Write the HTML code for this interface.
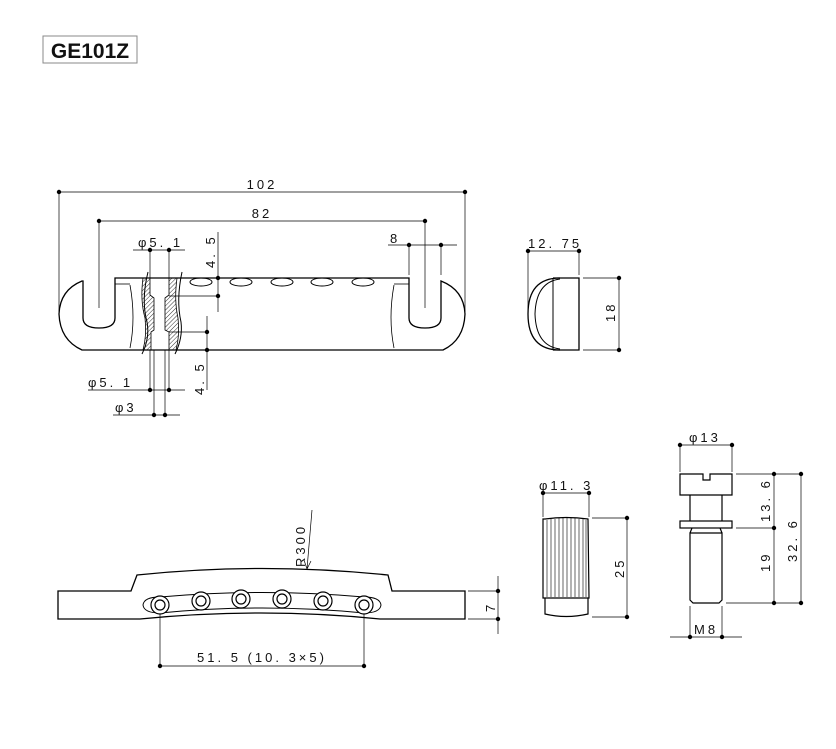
<!DOCTYPE html>
<html><head><meta charset="utf-8"><style>
html,body{margin:0;padding:0;background:#fff}
svg{display:block}
text{font-family:"Liberation Sans",sans-serif;font-size:13px;fill:#111;letter-spacing:3px}
</style></head><body>
<svg width="836" height="749" viewBox="0 0 836 749" xmlns="http://www.w3.org/2000/svg">
<defs>
<pattern id="h" width="3" height="3" patternUnits="userSpaceOnUse" patternTransform="rotate(45)"><line x1="0" y1="0" x2="0" y2="3" stroke="#333" stroke-width="1"/></pattern>
</defs>
<!-- title -->
<rect x="43" y="36" width="94" height="27" fill="#fff" stroke="#888" stroke-width="1"/>
<text x="90" y="58" text-anchor="middle" style="font-size:21px;font-weight:bold;letter-spacing:0" fill="#000">GE101Z</text>

<g fill="none" stroke="#000" stroke-width="1.3">
<!-- top view body -->
<path d="M82,281 Q60,290 59,314 Q60,340 82,350 L443,350 Q464,340 465,314 Q464,290 441,281 L441,318 Q441,328 425,328 Q409,328 409,318 L409,278 L115,278 L115,318 Q115,328 99,328 Q83,328 83,318 L83,281 Z"/>
<path d="M130,285 Q136,318 130,348 M394,285 Q388,318 394,348" stroke-width="0.8"/>
<line x1="115" y1="284" x2="130" y2="284" stroke-width="0.8"/><line x1="394" y1="284" x2="409" y2="284" stroke-width="0.8"/>
<!-- holes -->
<g stroke-width="1"><ellipse cx="201" cy="282" rx="11" ry="4"/><ellipse cx="241" cy="282" rx="11" ry="4"/><ellipse cx="282" cy="282" rx="11" ry="4"/><ellipse cx="322" cy="282" rx="11" ry="4"/><ellipse cx="363" cy="282" rx="11" ry="4"/></g>
</g>
<!-- section -->
<path d="M143,278 Q140,300 145,318 Q147,335 143,350 L151,350 L151,332 L154,330 L154,298 L150,295 L150,278 Z" fill="url(#h)" stroke="#000" stroke-width="0.8"/>
<path d="M177,278 Q174,300 178,318 Q180,335 176,350 L169,350 L169,332 L165,330 L165,298 L169,295 L169,278 Z" fill="url(#h)" stroke="#000" stroke-width="0.8"/>
<path d="M148,272 Q141,300 147,322 Q150,338 142,354 M182,272 Q176,300 181,322 Q183,338 175,354" fill="none" stroke="#000" stroke-width="1"/>

<g stroke="#000" stroke-width="0.7" fill="none">
<!-- dim lines top view -->
<line x1="59" y1="192" x2="465" y2="192"/><line x1="59" y1="192" x2="59" y2="312"/><line x1="465" y1="192" x2="465" y2="312"/>
<line x1="99" y1="221" x2="425" y2="221"/><line x1="99" y1="221" x2="99" y2="308"/><line x1="425" y1="221" x2="425" y2="308"/>
<line x1="388" y1="245" x2="457" y2="245"/><line x1="409" y1="245" x2="409" y2="275"/><line x1="441" y1="245" x2="441" y2="275"/>
<line x1="133" y1="250" x2="185" y2="250"/><line x1="150" y1="250" x2="150" y2="278"/><line x1="169" y1="250" x2="169" y2="278"/>
<line x1="218" y1="232" x2="218" y2="312"/><line x1="169" y1="296" x2="218" y2="296"/>
<line x1="207" y1="316" x2="207" y2="390"/><line x1="169" y1="332" x2="207" y2="332"/>
<line x1="150" y1="350" x2="150" y2="390"/><line x1="169" y1="350" x2="169" y2="390"/>
<line x1="154" y1="350" x2="154" y2="415"/><line x1="165" y1="350" x2="165" y2="415"/>
<line x1="88" y1="390" x2="185" y2="390"/><line x1="113" y1="415" x2="180" y2="415"/>
<!-- side view dims -->
<line x1="528" y1="251" x2="579" y2="251"/><line x1="528" y1="251" x2="528" y2="315"/><line x1="579" y1="251" x2="579" y2="275"/>
<line x1="583" y1="278" x2="619" y2="278"/><line x1="583" y1="350" x2="619" y2="350"/><line x1="619" y1="278" x2="619" y2="350"/>
<!-- bottom view dims -->
<line x1="160" y1="605" x2="160" y2="666"/><line x1="364" y1="605" x2="364" y2="666"/><line x1="160" y1="666" x2="364" y2="666"/>
<line x1="468" y1="591" x2="498" y2="591"/><line x1="468" y1="619" x2="498" y2="619"/><line x1="498" y1="576" x2="498" y2="634"/>
<line x1="312" y1="510" x2="307" y2="569"/><path d="M304,560 L307,569 L311,561"/>
<!-- knob dims -->
<line x1="543" y1="493" x2="589" y2="493"/><line x1="543" y1="493" x2="543" y2="517"/><line x1="589" y1="493" x2="589" y2="517"/>
<line x1="592" y1="518" x2="627" y2="518"/><line x1="592" y1="617" x2="627" y2="617"/><line x1="627" y1="518" x2="627" y2="617"/>
<!-- screw dims -->
<line x1="680" y1="445" x2="732" y2="445"/><line x1="680" y1="445" x2="680" y2="472"/><line x1="732" y1="445" x2="732" y2="472"/>
<line x1="736" y1="474" x2="801" y2="474"/><line x1="736" y1="528" x2="774" y2="528"/><line x1="726" y1="603" x2="801" y2="603"/>
<line x1="774" y1="474" x2="774" y2="603"/><line x1="801" y1="474" x2="801" y2="603"/>
<line x1="690" y1="606" x2="690" y2="637"/><line x1="722" y1="606" x2="722" y2="637"/><line x1="670" y1="637" x2="742" y2="637"/>
</g>

<g fill="none" stroke="#000" stroke-width="1.3">
<!-- side view -->
<path d="M553,278 L579,278 L579,350 L553,350"/>
<path d="M560,278 Q528,278 528,314 Q528,350 560,350"/>
<path d="M560,279 Q536,282 535,314 Q536,346 560,349 M553,279 L553,349" stroke-width="1"/>
<!-- bottom view -->
<path d="M58,591 L131,591 L137,575 Q262,562 388,575 L392,591 L465,591 L465,619 L380,619 Q262,607 140,619 L58,619 Z"/>
<path d="M160,597 Q262,588 364,597 M160,613 Q262,603 364,613 M160,597 Q144,597 143,605 Q144,613 160,613 M364,597 Q380,597 381,605 Q380,613 364,613" stroke-width="1"/>
</g>
<g fill="#fff" stroke="#000" stroke-width="1.2">
<circle cx="160" cy="605" r="9"/><circle cx="201" cy="601" r="9"/><circle cx="241" cy="599" r="9"/><circle cx="282" cy="599" r="9"/><circle cx="323" cy="601" r="9"/><circle cx="364" cy="605" r="9"/>
<circle cx="160" cy="605" r="5"/><circle cx="201" cy="601" r="5"/><circle cx="241" cy="599" r="5"/><circle cx="282" cy="599" r="5"/><circle cx="323" cy="601" r="5"/><circle cx="364" cy="605" r="5"/>
</g>
<!-- knob -->
<g fill="none" stroke="#000" stroke-width="1.2">
<path d="M545,519 Q566,516 588,519 L589,598 L543,598 L543,519 Z"/>
<path d="M545,598 L545,614 Q566,619 588,614 L588,598"/>
</g>
<g stroke="#000" stroke-width="0.6">
<line x1="547" y1="520" x2="547" y2="597"/><line x1="551" y1="519" x2="551" y2="597"/><line x1="555" y1="519" x2="555" y2="597"/><line x1="559" y1="518" x2="559" y2="597"/><line x1="563" y1="518" x2="563" y2="597"/><line x1="567" y1="518" x2="567" y2="597"/><line x1="571" y1="518" x2="571" y2="597"/><line x1="575" y1="518" x2="575" y2="597"/><line x1="579" y1="519" x2="579" y2="597"/><line x1="583" y1="519" x2="583" y2="597"/><line x1="586" y1="520" x2="586" y2="597"/>
</g>
<!-- screw -->
<g fill="none" stroke="#000" stroke-width="1.2">
<path d="M680,474 L703,474 L703,480 L710,480 L710,474 L732,474 L732,495 L680,495 Z"/>
<line x1="690" y1="495" x2="690" y2="521"/><line x1="722" y1="495" x2="722" y2="521"/>
<rect x="680" y="521" width="52" height="7"/>
<path d="M690,533 L722,533 L722,600 L719,603 L693,603 L690,600 Z M692,528 L690,533 M720,528 L722,533"/>
</g>

<!-- dots -->
<g fill="#000">
<circle cx="59" cy="192" r="2.2"/><circle cx="465" cy="192" r="2.2"/>
<circle cx="99" cy="221" r="2.2"/><circle cx="425" cy="221" r="2.2"/>
<circle cx="409" cy="245" r="2.2"/><circle cx="441" cy="245" r="2.2"/>
<circle cx="150" cy="250" r="2.2"/><circle cx="169" cy="250" r="2.2"/>
<circle cx="218" cy="278" r="2.2"/><circle cx="218" cy="296" r="2.2"/>
<circle cx="207" cy="332" r="2.2"/><circle cx="207" cy="350" r="2.2"/>
<circle cx="150" cy="390" r="2.2"/><circle cx="169" cy="390" r="2.2"/>
<circle cx="154" cy="415" r="2.2"/><circle cx="165" cy="415" r="2.2"/>
<circle cx="528" cy="251" r="2.2"/><circle cx="579" cy="251" r="2.2"/>
<circle cx="619" cy="278" r="2.2"/><circle cx="619" cy="350" r="2.2"/>
<circle cx="160" cy="666" r="2.2"/><circle cx="364" cy="666" r="2.2"/>
<circle cx="498" cy="591" r="2.2"/><circle cx="498" cy="619" r="2.2"/>
<circle cx="543" cy="493" r="2.2"/><circle cx="589" cy="493" r="2.2"/>
<circle cx="627" cy="518" r="2.2"/><circle cx="627" cy="617" r="2.2"/>
<circle cx="680" cy="445" r="2.2"/><circle cx="732" cy="445" r="2.2"/>
<circle cx="774" cy="474" r="2.2"/><circle cx="774" cy="528" r="2.2"/><circle cx="774" cy="603" r="2.2"/>
<circle cx="801" cy="474" r="2.2"/><circle cx="801" cy="603" r="2.2"/>
<circle cx="690" cy="637" r="2.2"/><circle cx="722" cy="637" r="2.2"/>
</g>

<!-- labels -->
<text x="262" y="189" text-anchor="middle">102</text>
<text x="262" y="218" text-anchor="middle">82</text>
<text x="390" y="243">8</text>
<text x="138" y="247">φ5. 1</text>
<text x="88" y="387">φ5. 1</text>
<text x="115" y="412">φ3</text>
<text transform="translate(215,268) rotate(-90)">4. 5</text>
<text transform="translate(204,395) rotate(-90)">4. 5</text>
<text x="528" y="248">12. 75</text>
<text transform="translate(615,322) rotate(-90)">18</text>
<text transform="translate(305,567) rotate(-90)">R300</text>
<text transform="translate(495,612) rotate(-90)">7</text>
<text x="262" y="662" text-anchor="middle">51. 5 (10. 3×5)</text>
<text x="539" y="490">φ11. 3</text>
<text transform="translate(624,578) rotate(-90)">25</text>
<text x="689" y="442">φ13</text>
<text transform="translate(770,522) rotate(-90)">13. 6</text>
<text transform="translate(770,572) rotate(-90)">19</text>
<text transform="translate(797,562) rotate(-90)">32. 6</text>
<text x="694" y="634">M8</text>
</svg>
</body></html>
